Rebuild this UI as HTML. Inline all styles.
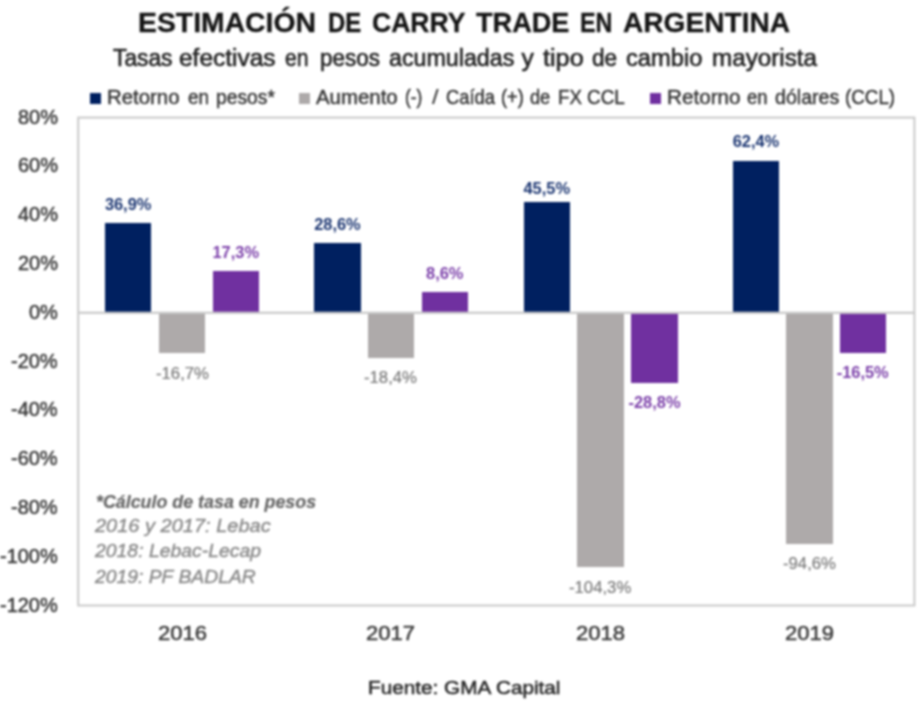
<!DOCTYPE html>
<html><head><meta charset="utf-8"><title>Carry trade</title>
<style>
html,body{margin:0;padding:0;background:#fff;}
body{width:922px;height:710px;position:relative;overflow:hidden;font-family:"Liberation Sans",sans-serif;color:#404040;}
.t{position:absolute;white-space:nowrap;line-height:1;transform-origin:0 0;}
.sq{position:absolute;width:11px;height:11.3px;top:92.7px;}
.fr{position:absolute;left:0;top:0;}
.bar{position:absolute;}
#wrap{position:absolute;left:0;top:0;width:922px;height:710px;overflow:hidden;filter:blur(0.9px);}
</style></head><body><div id="wrap">
<div class="t" style="left:137.60px;top:9.41px;font-size:27.40px;color:#141414;transform:scaleX(1.0350);font-weight:bold;-webkit-text-stroke:0.30px #141414;">ESTIMACIÓN</div>
<div class="t" style="left:327.60px;top:9.41px;font-size:27.40px;color:#141414;transform:scaleX(0.8743);font-weight:bold;-webkit-text-stroke:0.30px #141414;">DE</div>
<div class="t" style="left:371.90px;top:9.41px;font-size:27.40px;color:#141414;transform:scaleX(0.9694);font-weight:bold;-webkit-text-stroke:0.30px #141414;">CARRY</div>
<div class="t" style="left:475.50px;top:9.41px;font-size:27.40px;color:#141414;transform:scaleX(0.9905);font-weight:bold;-webkit-text-stroke:0.30px #141414;">TRADE</div>
<div class="t" style="left:580.30px;top:9.41px;font-size:27.40px;color:#141414;transform:scaleX(0.8533);font-weight:bold;-webkit-text-stroke:0.30px #141414;">EN</div>
<div class="t" style="left:623.40px;top:9.41px;font-size:27.40px;color:#141414;transform:scaleX(1.0264);font-weight:bold;-webkit-text-stroke:0.30px #141414;">ARGENTINA</div>
<div class="t" style="left:112.50px;top:46.28px;font-size:24.60px;color:#222222;transform:scaleX(0.9251);-webkit-text-stroke:0.60px #222222;">Tasas</div>
<div class="t" style="left:178.90px;top:46.28px;font-size:24.60px;color:#222222;transform:scaleX(0.9944);-webkit-text-stroke:0.60px #222222;">efectivas</div>
<div class="t" style="left:285.40px;top:46.28px;font-size:24.60px;color:#222222;transform:scaleX(0.8570);-webkit-text-stroke:0.60px #222222;">en</div>
<div class="t" style="left:319.80px;top:46.28px;font-size:24.60px;color:#222222;transform:scaleX(0.9120);-webkit-text-stroke:0.60px #222222;">pesos</div>
<div class="t" style="left:389.00px;top:46.28px;font-size:24.60px;color:#222222;transform:scaleX(0.9450);-webkit-text-stroke:0.60px #222222;">acumuladas</div>
<div class="t" style="left:521.60px;top:46.28px;font-size:24.60px;color:#222222;transform:scaleX(1.0000);-webkit-text-stroke:0.60px #222222;">y</div>
<div class="t" style="left:542.70px;top:46.28px;font-size:24.60px;color:#222222;transform:scaleX(1.0251);-webkit-text-stroke:0.60px #222222;">tipo</div>
<div class="t" style="left:592.30px;top:46.28px;font-size:24.60px;color:#222222;transform:scaleX(0.9192);-webkit-text-stroke:0.60px #222222;">de</div>
<div class="t" style="left:625.70px;top:46.28px;font-size:24.60px;color:#222222;transform:scaleX(0.9643);-webkit-text-stroke:0.60px #222222;">cambio</div>
<div class="t" style="left:711.50px;top:46.28px;font-size:24.60px;color:#222222;transform:scaleX(0.9854);-webkit-text-stroke:0.60px #222222;">mayorista</div>
<div class="sq" style="left:90px;background:#002060"></div>
<div class="sq" style="left:299.3px;background:#AEAAAA"></div>
<div class="sq" style="left:650px;background:#7030A0"></div>
<div class="t" style="left:106.80px;top:88.18px;font-size:19.40px;color:#333333;transform:scaleX(1.0512);-webkit-text-stroke:0.40px #333333;">Retorno</div>
<div class="t" style="left:187.70px;top:88.18px;font-size:19.40px;color:#333333;transform:scaleX(0.9752);-webkit-text-stroke:0.40px #333333;">en</div>
<div class="t" style="left:215.70px;top:88.18px;font-size:19.40px;color:#333333;transform:scaleX(0.9939);-webkit-text-stroke:0.40px #333333;">pesos*</div>
<div class="t" style="left:316.00px;top:88.18px;font-size:19.40px;color:#333333;transform:scaleX(1.0528);-webkit-text-stroke:0.40px #333333;">Aumento</div>
<div class="t" style="left:405.00px;top:88.18px;font-size:19.40px;color:#333333;transform:scaleX(0.8918);-webkit-text-stroke:0.40px #333333;">(-)</div>
<div class="t" style="left:431.60px;top:88.18px;font-size:19.40px;color:#333333;transform:scaleX(1.2150);-webkit-text-stroke:0.10px #333333;">/</div>
<div class="t" style="left:445.50px;top:88.18px;font-size:19.40px;color:#333333;transform:scaleX(0.9479);-webkit-text-stroke:0.40px #333333;">Caída</div>
<div class="t" style="left:501.10px;top:88.18px;font-size:19.40px;color:#333333;transform:scaleX(0.9402);-webkit-text-stroke:0.40px #333333;">(+)</div>
<div class="t" style="left:529.70px;top:88.18px;font-size:19.40px;color:#333333;transform:scaleX(0.9381);-webkit-text-stroke:0.40px #333333;">de</div>
<div class="t" style="left:557.90px;top:88.18px;font-size:19.40px;color:#333333;transform:scaleX(0.9625);-webkit-text-stroke:0.40px #333333;">FX</div>
<div class="t" style="left:587.40px;top:88.18px;font-size:19.40px;color:#333333;transform:scaleX(0.9742);-webkit-text-stroke:0.40px #333333;">CCL</div>
<div class="t" style="left:667.30px;top:88.18px;font-size:19.40px;color:#333333;transform:scaleX(1.0671);-webkit-text-stroke:0.40px #333333;">Retorno</div>
<div class="t" style="left:747.00px;top:88.18px;font-size:19.40px;color:#333333;transform:scaleX(0.9520);-webkit-text-stroke:0.40px #333333;">en</div>
<div class="t" style="left:774.80px;top:88.18px;font-size:19.40px;color:#333333;transform:scaleX(1.0105);-webkit-text-stroke:0.40px #333333;">dólares</div>
<div class="t" style="left:845.20px;top:88.18px;font-size:19.40px;color:#333333;transform:scaleX(0.9690);-webkit-text-stroke:0.40px #333333;">(CCL)</div>
<svg class="fr" width="922" height="710" viewBox="0 0 922 710"><rect x="78.2" y="117.6" width="836.2" height="487.9" fill="none" stroke="#c9c9c9" stroke-width="2"/></svg>
<div class="t" style="left:17.84px;top:106.66px;font-size:20.60px;color:#3a3a3a;transform:scaleX(0.9700);-webkit-text-stroke:0.50px #3a3a3a;">80%</div>
<div class="t" style="left:17.84px;top:155.46px;font-size:20.60px;color:#3a3a3a;transform:scaleX(0.9700);-webkit-text-stroke:0.50px #3a3a3a;">60%</div>
<div class="t" style="left:17.84px;top:204.26px;font-size:20.60px;color:#3a3a3a;transform:scaleX(0.9700);-webkit-text-stroke:0.50px #3a3a3a;">40%</div>
<div class="t" style="left:17.84px;top:253.06px;font-size:20.60px;color:#3a3a3a;transform:scaleX(0.9700);-webkit-text-stroke:0.50px #3a3a3a;">20%</div>
<div class="t" style="left:28.93px;top:301.86px;font-size:20.60px;color:#3a3a3a;transform:scaleX(0.9700);-webkit-text-stroke:0.50px #3a3a3a;">0%</div>
<div class="t" style="left:11.14px;top:350.66px;font-size:20.60px;color:#3a3a3a;transform:scaleX(0.9700);-webkit-text-stroke:0.50px #3a3a3a;">-20%</div>
<div class="t" style="left:11.14px;top:399.46px;font-size:20.60px;color:#3a3a3a;transform:scaleX(0.9700);-webkit-text-stroke:0.50px #3a3a3a;">-40%</div>
<div class="t" style="left:11.14px;top:448.26px;font-size:20.60px;color:#3a3a3a;transform:scaleX(0.9700);-webkit-text-stroke:0.50px #3a3a3a;">-60%</div>
<div class="t" style="left:11.14px;top:497.06px;font-size:20.60px;color:#3a3a3a;transform:scaleX(0.9700);-webkit-text-stroke:0.50px #3a3a3a;">-80%</div>
<div class="t" style="left:0.05px;top:545.86px;font-size:20.60px;color:#3a3a3a;transform:scaleX(0.9700);-webkit-text-stroke:0.50px #3a3a3a;">-100%</div>
<div class="t" style="left:0.05px;top:594.66px;font-size:20.60px;color:#3a3a3a;transform:scaleX(0.9700);-webkit-text-stroke:0.50px #3a3a3a;">-120%</div>
<div class="bar" style="left:105.0px;top:222.8px;width:46.3px;height:90.0px;background:#002060"></div>
<div class="t" style="left:104.90px;top:195.68px;font-size:16.40px;color:#1b3571;transform:scaleX(1.0000);font-weight:bold;">36,9%</div>
<div class="bar" style="left:159.2px;top:312.8px;width:46.3px;height:40.7px;background:#AEAAAA"></div>
<div class="t" style="left:155.84px;top:364.95px;font-size:16.40px;color:#7a7a7a;transform:scaleX(1.0200);-webkit-text-stroke:0.20px #7a7a7a;">-16,7%</div>
<div class="bar" style="left:212.6px;top:270.6px;width:46.3px;height:42.2px;background:#7030A0"></div>
<div class="t" style="left:212.50px;top:243.51px;font-size:16.40px;color:#7b3fa9;transform:scaleX(1.0000);font-weight:bold;">17,3%</div>
<div class="t" style="left:157.82px;top:622.12px;font-size:21.00px;color:#3a3a3a;transform:scaleX(1.0500);-webkit-text-stroke:0.50px #3a3a3a;">2016</div>
<div class="bar" style="left:314.3px;top:243.0px;width:46.3px;height:69.8px;background:#002060"></div>
<div class="t" style="left:314.20px;top:215.93px;font-size:16.40px;color:#1b3571;transform:scaleX(1.0000);font-weight:bold;">28,6%</div>
<div class="bar" style="left:367.7px;top:312.8px;width:46.3px;height:44.9px;background:#AEAAAA"></div>
<div class="t" style="left:364.34px;top:369.09px;font-size:16.40px;color:#7a7a7a;transform:scaleX(1.0200);-webkit-text-stroke:0.20px #7a7a7a;">-18,4%</div>
<div class="bar" style="left:421.6px;top:291.8px;width:46.3px;height:21.0px;background:#7030A0"></div>
<div class="t" style="left:426.05px;top:264.73px;font-size:16.40px;color:#7b3fa9;transform:scaleX(1.0000);font-weight:bold;">8,6%</div>
<div class="t" style="left:366.32px;top:622.12px;font-size:21.00px;color:#3a3a3a;transform:scaleX(1.0500);-webkit-text-stroke:0.50px #3a3a3a;">2017</div>
<div class="bar" style="left:523.6px;top:201.8px;width:46.3px;height:111.0px;background:#002060"></div>
<div class="t" style="left:523.50px;top:179.70px;font-size:16.40px;color:#1b3571;transform:scaleX(1.0000);font-weight:bold;">45,5%</div>
<div class="bar" style="left:577.4px;top:312.8px;width:46.3px;height:254.5px;background:#AEAAAA"></div>
<div class="t" style="left:569.39px;top:578.69px;font-size:16.40px;color:#7a7a7a;transform:scaleX(1.0200);-webkit-text-stroke:0.20px #7a7a7a;">-104,3%</div>
<div class="bar" style="left:631.4px;top:312.8px;width:46.3px;height:70.3px;background:#7030A0"></div>
<div class="t" style="left:628.56px;top:394.47px;font-size:16.40px;color:#7b3fa9;transform:scaleX(1.0000);font-weight:bold;">-28,8%</div>
<div class="t" style="left:576.02px;top:622.12px;font-size:21.00px;color:#3a3a3a;transform:scaleX(1.0500);-webkit-text-stroke:0.50px #3a3a3a;">2018</div>
<div class="bar" style="left:732.8px;top:160.5px;width:46.3px;height:152.3px;background:#002060"></div>
<div class="t" style="left:732.70px;top:133.46px;font-size:16.40px;color:#1b3571;transform:scaleX(1.0000);font-weight:bold;">62,4%</div>
<div class="bar" style="left:786.3px;top:312.8px;width:46.3px;height:230.8px;background:#AEAAAA"></div>
<div class="t" style="left:782.94px;top:555.02px;font-size:16.40px;color:#7a7a7a;transform:scaleX(1.0200);-webkit-text-stroke:0.20px #7a7a7a;">-94,6%</div>
<div class="bar" style="left:839.6px;top:312.8px;width:46.3px;height:40.3px;background:#7030A0"></div>
<div class="t" style="left:836.76px;top:364.46px;font-size:16.40px;color:#7b3fa9;transform:scaleX(1.0000);font-weight:bold;">-16,5%</div>
<div class="t" style="left:784.92px;top:622.12px;font-size:21.00px;color:#3a3a3a;transform:scaleX(1.0500);-webkit-text-stroke:0.50px #3a3a3a;">2019</div>
<svg class="fr" width="922" height="710" viewBox="0 0 922 710"><rect x="78.2" y="311.7" width="836.2" height="2.2" fill="#c9c9c9"/></svg>
<div class="t" style="left:95.80px;top:492.76px;font-size:18.60px;color:#666666;transform:scaleX(0.9594);font-weight:bold;font-style:italic;-webkit-text-stroke:0.20px #666666;">*Cálculo de tasa en pesos</div>
<div class="t" style="left:95.00px;top:517.26px;font-size:18.60px;color:#8a8a8a;transform:scaleX(1.0753);font-style:italic;-webkit-text-stroke:0.40px #8a8a8a;">2016 y 2017: Lebac</div>
<div class="t" style="left:94.99px;top:541.96px;font-size:18.60px;color:#8a8a8a;transform:scaleX(1.0433);font-style:italic;-webkit-text-stroke:0.40px #8a8a8a;">2018: Lebac-Lecap</div>
<div class="t" style="left:94.99px;top:568.26px;font-size:18.60px;color:#8a8a8a;transform:scaleX(1.0391);font-style:italic;-webkit-text-stroke:0.40px #8a8a8a;">2019: PF BADLAR</div>
<div class="t" style="left:367.80px;top:678.96px;font-size:18.60px;color:#262626;transform:scaleX(1.1152);-webkit-text-stroke:0.50px #262626;">Fuente: GMA Capital</div>
</div></body></html>
